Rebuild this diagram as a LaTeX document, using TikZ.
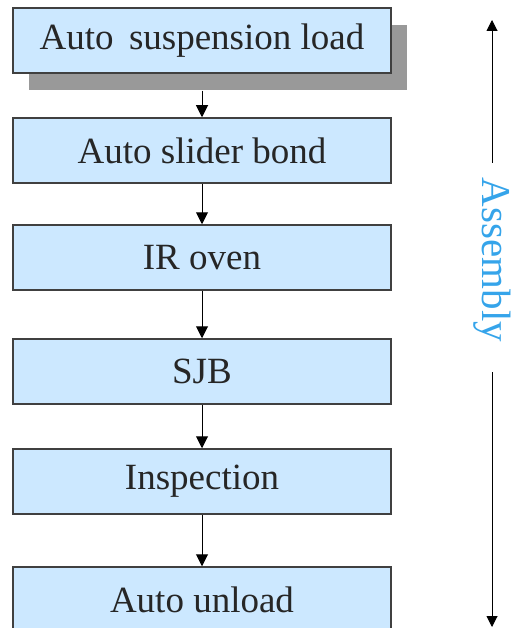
\documentclass[tikz,border=0pt]{standalone}
\usepackage{fontspec}
\newfontfamily\stagefont{LiberationSerif}[Extension=.ttf, UprightFont=*-Regular]
\usetikzlibrary{arrows.meta,shadows}
\definecolor{boxblue}{HTML}{CCE8FF}
\definecolor{boxline}{HTML}{404040}
\definecolor{asmblue}{HTML}{35A4EA}
\tikzset {
  stage style/.style = {
    draw=boxline,
    line width=1.5pt,
    fill=boxblue,
    minimum width=378pt,
    minimum height=65pt,
    inner sep=0pt,
    text=black!85,
    font=\stagefont\fontsize{37}{40}\selectfont
  },
  shadowed/.style = {
    drop shadow={shadow xshift=16pt, shadow yshift=-17pt, fill=black!40, opacity=1}
  },
  flow/.style = {
    line width=1pt,
    -{Triangle[length=12pt,width=12pt]}
  },
  span/.style = {
    line width=1pt,
    -{Triangle[length=11pt,width=11pt]}
  }
}

\begin{document}
\begin{tikzpicture}[x=1pt,y=-1pt]
\useasboundingbox (0,0) rectangle (518,628);

% --- Process stages ---
\node[stage style, shadowed] (load)    at (202, 40.5) {Auto\, suspension load};
\node[stage style]           (slider)  at (202,150.5) {Auto slider bond};
\node[stage style]           (oven)    at (202,257.5) {IR oven};
\node[stage style]           (sjb)     at (202,371.5) {SJB};
\node[stage style]           (inspect) at (202,481.5) {Inspection};
\node[stage style]           (unload)  at (202,599.5) {Auto unload};

\draw[flow, shorten <=17pt] (load) -- (slider);
\draw[flow] (slider)  -- (oven);
\draw[flow] (oven)    -- (sjb);
\draw[flow] (sjb)     -- (inspect);
\draw[flow] (inspect) -- (unload);

% --- Assembly span ---
\coordinate (asm top) at (492, 20);
\coordinate (asm bot) at (492,627);
\node[rotate=-90, inner xsep=15pt, inner ysep=0pt, text=asmblue,
      font=\stagefont\fontsize{41}{44}\selectfont] (asm) at (492,260) {Assembly};
\draw[span] (asm.west) -- (asm top);
\draw[span, shorten <=15pt] (asm.east) -- (asm bot);

\end{tikzpicture}
\end{document}
